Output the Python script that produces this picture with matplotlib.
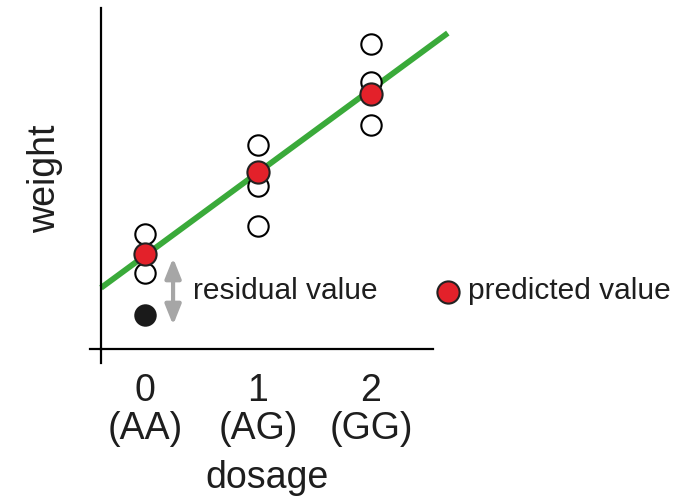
import numpy as np
import matplotlib
matplotlib.use("Agg")
import matplotlib.pyplot as plt

plt.rcParams['font.family'] = ['Liberation Sans', 'DejaVu Sans']

# dosage groups and observed weights (arbitrary units)
dosage = [0, 1, 2]
tick_labels = ["0\n(AA)", "1\n(AG)", "2\n(GG)"]
obs_x = [0, 0, 1, 1, 1, 2, 2, 2]
obs_y = [11.5, 7.6, 20.4, 16.3, 12.3, 30.5, 26.7, 22.4]
outlier_x = [0]
outlier_y = [3.4]
predicted = [9.5, 17.7, 25.5]

# fitted line
slope = 8.3
intercept = 9.35
line_x = np.array([-0.39, 2.68])

GREEN = "#3aaa3a"
RED = "#e3212a"
GREY = "#a6a6a6"
TXT = "#1e1e1e"

fig = plt.figure(figsize=(6.87, 4.99), dpi=100)
ax = fig.add_axes([101 / 687, 150 / 499, 332 / 687, 341 / 499])
ax.set_xlim(-0.39, 2.549)
ax.set_ylim(0, 34.1)

for s in ['top', 'right']:
    ax.spines[s].set_visible(False)
for s in ['left', 'bottom']:
    ax.spines[s].set_linewidth(1.6)
# little overhang where the axes cross
ax.plot([0, 0], [0, -0.04], transform=ax.transAxes, color='black', lw=1.6, clip_on=False)
ax.plot([0, -0.033], [0, 0], transform=ax.transAxes, color='black', lw=1.6, clip_on=False)

ax.plot(line_x, intercept + slope * line_x, color=GREEN, lw=4.2, clip_on=False,
        solid_capstyle='butt', zorder=2)

ax.scatter(obs_x, obs_y, s=215, facecolor='white', edgecolor='black', lw=1.5, zorder=3)
ax.scatter(outlier_x, outlier_y, s=215, facecolor='#1a1a1a', edgecolor='#1a1a1a', lw=1.5, zorder=3)
ax.scatter(dosage, predicted, s=255, facecolor=RED, edgecolor='#222222', lw=1.5, zorder=4)

# residual arrow
ax.annotate("", xy=(0.248, outlier_y[0] - 1.0), xytext=(0.248, predicted[0] - 0.4),
            arrowprops=dict(arrowstyle='<|-|>,head_length=0.5,head_width=0.2', color=GREY,
                            lw=3, mutation_scale=24, shrinkA=0, shrinkB=0))
ax.text(0.42, 5.8, "residual value", fontsize=21.5, va='center', ha='left', color=TXT)

# legend for predicted value
ax.scatter([2.68], [5.7], s=255, facecolor=RED, edgecolor='#222222', lw=1.5, clip_on=False, zorder=4)
ax.text(2.855, 5.8, "predicted value", fontsize=21.5, va='center', ha='left', color=TXT)

ax.set_yticks([])
ax.set_xticks(dosage)
ax.set_xticklabels(tick_labels, fontsize=27, linespacing=1.1, color=TXT)
ax.tick_params(axis='x', length=0, pad=17)
ax.set_xlabel("dosage", fontsize=27, labelpad=9, color=TXT)
ax.set_ylabel("weight", fontsize=27, labelpad=27, color=TXT)

fig.savefig("out.png", dpi=100)
